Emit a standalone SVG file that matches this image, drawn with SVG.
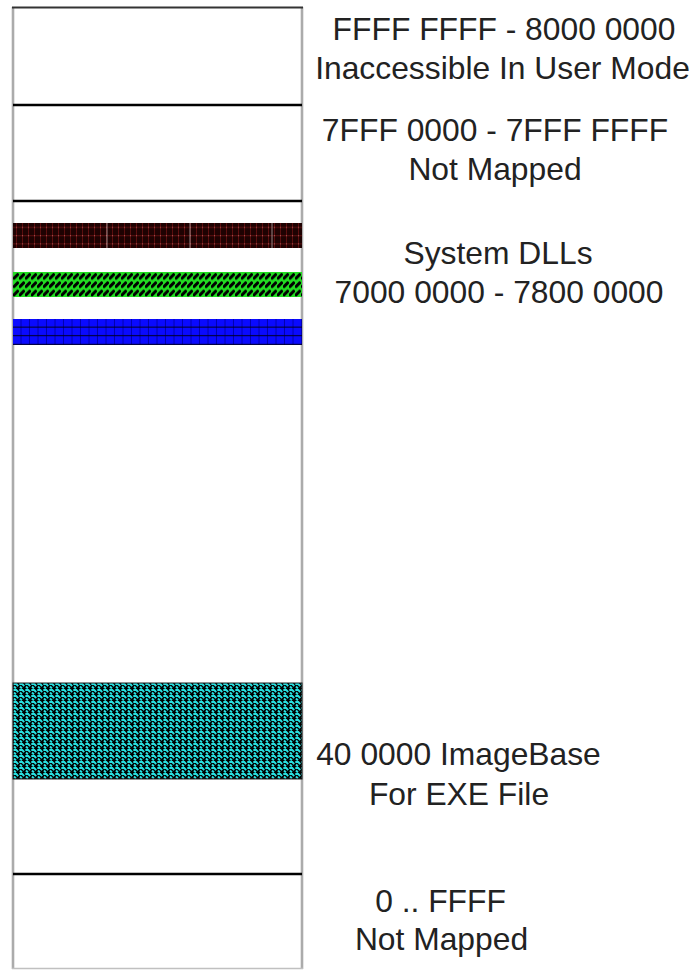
<svg xmlns="http://www.w3.org/2000/svg" width="696" height="970" viewBox="0 0 696 970">
<defs>
<pattern id="pRed" patternUnits="userSpaceOnUse" x="13" y="223" width="6" height="8.3">
<rect width="6" height="8.3" fill="#1e0202"/>
<rect x="3" y="0" width="0.8" height="8.3" fill="#6a1010"/>
<rect x="0" y="4" width="6" height="0.8" fill="#6a1010"/>
<rect x="3" y="4" width="0.8" height="0.8" fill="#c88080"/>
</pattern>
<pattern id="pGreen" patternUnits="userSpaceOnUse" x="13" y="272" width="6" height="8.3">
<rect width="6" height="8.3" fill="#22dd22"/>
<path d="M1.2 6.2 L4.6 2.6" stroke="#000" stroke-width="3" stroke-linecap="round"/>
</pattern>
<pattern id="pBlue" patternUnits="userSpaceOnUse" x="13" y="319" width="8.5" height="8.6">
<rect width="8.5" height="8.6" fill="#0a0aff"/>
<rect x="7.5" y="0" width="1" height="8.6" fill="#0000b0"/>
<rect x="0" y="7.6" width="8.5" height="1.2" fill="#000020"/>
</pattern>
<pattern id="pCyan" patternUnits="userSpaceOnUse" x="13" y="683" width="6" height="6">
<rect width="6" height="6" fill="#000"/>
<path d="M0.3 1 H3.3 L5.2 3.1 M1 3.5 L2.9 5.4" stroke="#28e0e0" stroke-width="2" fill="none"/>
</pattern>
<style>
.lbl{font-family:"Liberation Sans",Arial,sans-serif;font-size:31.8px;fill:#222;text-anchor:middle}
.div{stroke:#000;stroke-width:2.6}
.side{stroke:#ababab;stroke-width:2.6}
</style>
</defs>
<rect width="696" height="970" fill="#fff"/>
<g id="column">
<line class="side" x1="13" y1="7" x2="13" y2="969"/>
<line class="side" x1="302" y1="7" x2="302" y2="969"/>
<line x1="12" y1="7.5" x2="303" y2="7.5" stroke="#333" stroke-width="2.2"/>
<line x1="12" y1="968.5" x2="303" y2="968.5" stroke="#c0c0c0" stroke-width="1.5"/>
</g>
<g id="dividers">
<line class="div" x1="13" y1="105" x2="302" y2="105"/>
<line class="div" x1="13" y1="201" x2="302" y2="201"/>
<line class="div" x1="13" y1="874" x2="302" y2="874"/>
</g>
<g id="dll-red"><rect x="13" y="223" width="289" height="25" fill="url(#pRed)"/>
<g stroke="#b8a8a8" stroke-width="0.8"><line x1="107" y1="223" x2="107" y2="248"/><line x1="190" y1="223" x2="190" y2="248"/><line x1="272" y1="223" x2="272" y2="248"/></g></g>
<g id="dll-green"><rect x="13" y="272" width="289" height="25" fill="url(#pGreen)"/></g>
<g id="dll-blue"><rect x="13" y="319" width="289" height="26" fill="url(#pBlue)"/></g>
<g id="exe"><rect x="13" y="683" width="289" height="96" fill="url(#pCyan)" stroke="#222" stroke-width="1"/></g>
<g id="labels">
<text class="lbl" x="504" y="40">FFFF FFFF - 8000 0000</text>
<text class="lbl" x="502.5" y="79">Inaccessible In User Mode</text>
<text class="lbl" x="495" y="141">7FFF 0000 - 7FFF FFFF</text>
<text class="lbl" x="495" y="180">Not Mapped</text>
<text class="lbl" x="498" y="264">System DLLs</text>
<text class="lbl" x="499" y="303">7000 0000 - 7800 0000</text>
<text class="lbl" x="458.5" y="765">40 0000 ImageBase</text>
<text class="lbl" x="459" y="805">For EXE File</text>
<text class="lbl" x="440.5" y="912">0 .. FFFF</text>
<text class="lbl" x="441.5" y="950">Not Mapped</text>
</g>
</svg>
